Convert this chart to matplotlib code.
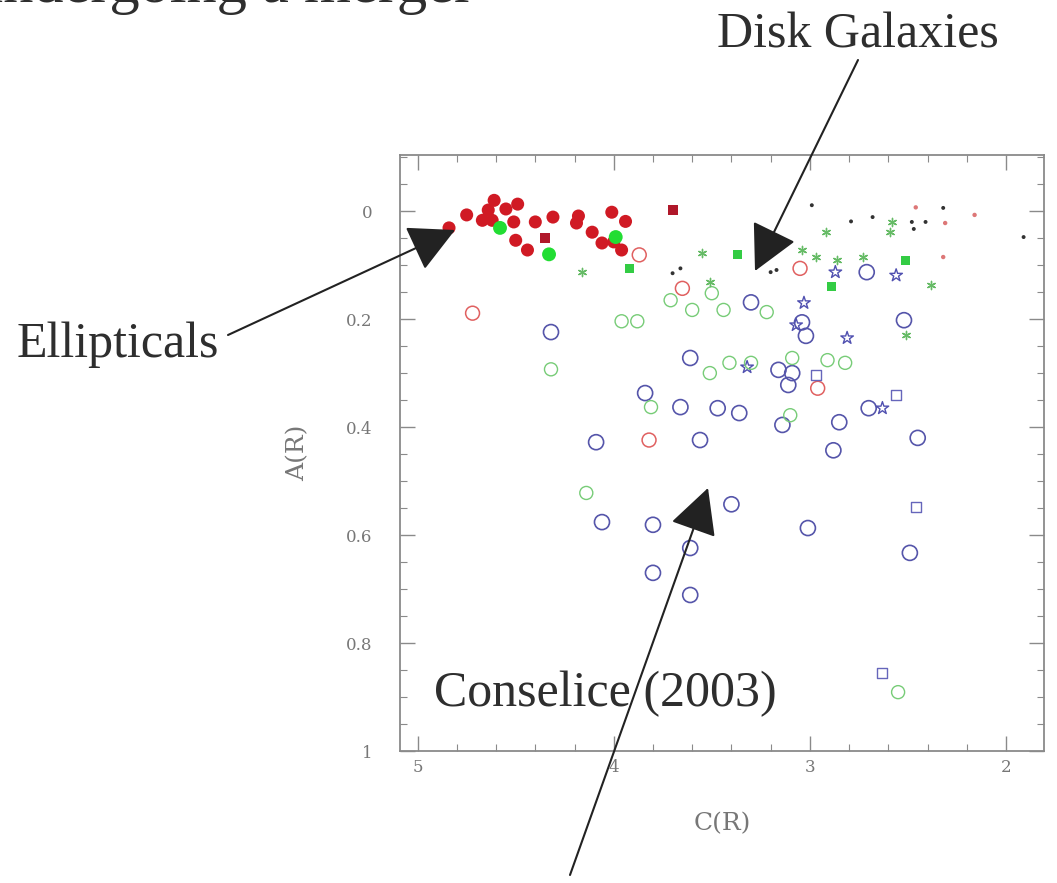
import matplotlib
matplotlib.use("Agg")
import matplotlib.pyplot as plt
from matplotlib.patches import FancyArrowPatch, ArrowStyle
from matplotlib.ticker import MultipleLocator, FuncFormatter

# --- data: C(R) concentration, A(R) asymmetry ---
ell_c = [4.84, 4.75, 4.61, 4.64, 4.55, 4.49, 4.67, 4.62, 4.51, 4.50, 4.44,
         4.40, 4.31, 4.18, 4.19, 4.11, 4.01, 3.94, 4.06, 3.96, 4.00]
ell_a = [0.031, 0.007, -0.020, -0.002, -0.004, -0.013, 0.017, 0.017, 0.020,
         0.054, 0.072, 0.020, 0.011, 0.009, 0.022, 0.039, 0.002, 0.019,
         0.059, 0.072, 0.057]

red_sq_c = [4.35, 3.70]
red_sq_a = [0.050, -0.002]

green_big_c = [4.58, 4.33, 3.99]
green_big_a = [0.031, 0.080, 0.048]

green_sq_c = [3.92, 3.37, 2.89, 2.51]
green_sq_a = [0.106, 0.080, 0.139, 0.091]

red_open_c = [4.72, 3.87, 3.65, 3.05, 3.82, 2.96]
red_open_a = [0.189, 0.081, 0.143, 0.106, 0.424, 0.328]

blue_open_c = [4.32, 3.30, 2.71, 3.61, 3.84, 3.66, 3.47, 4.09, 3.56, 4.06,
               3.80, 3.61, 3.40, 3.01, 3.80, 3.61, 3.02, 3.16, 3.09, 3.11,
               3.36, 3.14, 2.85, 2.70, 2.45, 2.88, 2.52, 3.04, 2.49]
blue_open_a = [0.224, 0.169, 0.113, 0.272, 0.337, 0.363, 0.365, 0.428, 0.424,
               0.576, 0.581, 0.624, 0.543, 0.587, 0.670, 0.711, 0.231, 0.294,
               0.300, 0.322, 0.374, 0.396, 0.391, 0.365, 0.420, 0.443, 0.202,
               0.206, 0.633]

blue_sq_c = [2.97, 2.56, 2.46, 2.63]
blue_sq_a = [0.304, 0.341, 0.548, 0.856]

blue_star_c = [2.87, 2.56, 3.03, 2.81, 3.32, 2.63, 3.07]
blue_star_a = [0.113, 0.119, 0.170, 0.235, 0.289, 0.365, 0.211]

green_open_c = [4.14, 4.32, 3.96, 3.88, 3.81, 3.71, 3.60, 3.51, 3.41, 3.30,
                3.09, 2.91, 2.82, 3.10, 3.50, 3.22, 3.44, 2.55]
green_open_a = [0.522, 0.293, 0.204, 0.204, 0.363, 0.165, 0.183, 0.300, 0.281,
                0.281, 0.272, 0.276, 0.281, 0.378, 0.152, 0.187, 0.183, 0.891]

green_ast_c = [3.55, 3.51, 3.04, 2.97, 2.86, 2.73, 2.38, 2.51, 4.16, 2.58,
               2.59, 2.92]
green_ast_a = [0.078, 0.131, 0.072, 0.085, 0.091, 0.085, 0.137, 0.230, 0.113,
               0.020, 0.039, 0.039]

dark_dot_c = [3.70, 3.66, 3.20, 3.17, 2.99, 2.79, 2.68, 2.48, 2.41, 2.47,
              2.32, 1.91]
dark_dot_a = [0.115, 0.106, 0.113, 0.109, -0.011, 0.019, 0.011, 0.020, 0.020,
              0.033, -0.006, 0.048]

red_dot_c = [2.31, 2.16, 2.32, 2.46]
red_dot_a = [0.022, 0.007, 0.085, -0.007]

W, H, DPI = 1057, 883, 100
fig = plt.figure(figsize=(W / DPI, H / DPI), dpi=DPI)
fig.patch.set_facecolor("white")

ax = fig.add_axes([400 / W, 1 - 751 / H, 644 / W, 596 / H])

ax.scatter(ell_c, ell_a, s=88, color="#d01a24", edgecolors="none", zorder=3)
ax.scatter(red_sq_c, red_sq_a, s=52, marker="s", color="#b0182a",
           edgecolors="none", zorder=3)
ax.scatter(green_big_c, green_big_a, s=100, color="#22dd33",
           edgecolors="none", zorder=4)
ax.scatter(green_sq_c, green_sq_a, s=42, marker="s", color="#33cc44",
           edgecolors="none", zorder=4)
ax.scatter(red_open_c, red_open_a, s=100, facecolors="none",
           edgecolors="#e06060", linewidths=1.1, zorder=3)
ax.scatter(blue_open_c, blue_open_a, s=117, facecolors="none",
           edgecolors="#5555aa", linewidths=1.2, zorder=3)
ax.scatter(blue_sq_c, blue_sq_a, s=52, marker="s", facecolors="none",
           edgecolors="#6666bb", linewidths=1.0, zorder=3)
ax.scatter(blue_star_c, blue_star_a, s=90, marker="*", facecolors="none",
           edgecolors="#5050b0", linewidths=1.0, zorder=3)
ax.scatter(green_open_c, green_open_a, s=88, facecolors="none",
           edgecolors="#77cc77", linewidths=1.0, zorder=3)
ax.scatter(green_ast_c, green_ast_a, s=35, marker=(6, 2, 0),
           color="#66bb66", linewidths=1.0, zorder=3)
ax.scatter(dark_dot_c, dark_dot_a, s=8, color="#333333",
           edgecolors="none", zorder=4)
ax.scatter(red_dot_c, red_dot_a, s=10, color="#dd7777",
           edgecolors="none", zorder=4)

ax.set_xlim(5.09, 1.806)
ax.set_ylim(1.0, -0.104)

ax.xaxis.set_major_locator(MultipleLocator(1))
ax.xaxis.set_minor_locator(MultipleLocator(0.2))
ax.yaxis.set_major_locator(MultipleLocator(0.2))
ax.yaxis.set_minor_locator(MultipleLocator(0.05))
ax.xaxis.set_major_formatter(FuncFormatter(lambda v, p: f"{v:g}"))
ax.yaxis.set_major_formatter(FuncFormatter(lambda v, p: f"{v:g}"))

gray = "#8a8a8a"
for s in ax.spines.values():
    s.set_color(gray)
    s.set_linewidth(1.3)
ax.tick_params(which="both", direction="in", top=True, right=True,
               color=gray, labelcolor="#777777")
ax.tick_params(which="major", length=11, width=1.0, labelsize=12)
ax.tick_params(which="minor", length=5, width=0.8)
ax.tick_params(axis="y", which="major", pad=20)
ax.tick_params(axis="x", which="major", pad=6)
for lab in ax.get_xticklabels() + ax.get_yticklabels():
    lab.set_family("DejaVu Serif")

ax.set_xlabel("C(R)", family="DejaVu Serif", fontsize=18, color="#777777",
              labelpad=26)
ax.set_ylabel("A(R)", family="DejaVu Serif", fontsize=18, color="#777777",
              labelpad=26)

# annotations, positioned in figure pixels
def fx(px):
    return px / W


def fy(py):
    return 1 - py / H


txt = dict(family="Liberation Serif", fontsize=36, color="#2e2e2e",
           va="baseline")
fig.text(fx(-27), fy(2), "undergoing a merger", ha="left",
         **{**txt, "fontsize": 43.5})
fig.text(fx(858), fy(47), "Disk Galaxies", ha="center", **txt)
fig.text(fx(118), fy(357), "Ellipticals", ha="center", **txt)
fig.text(fx(605), fy(706), "Conselice (2003)", ha="center", **txt)

style = ArrowStyle("-|>", head_length=29, head_width=15)
arrows = [((858, 60), (755, 271)),
          ((228, 335), (455, 230)),
          ((570, 875), (708, 488))]
for (x0, y0), (x1, y1) in arrows:
    fig.add_artist(FancyArrowPatch(
        (fx(x0), fy(y0)), (fx(x1), fy(y1)),
        transform=fig.transFigure, arrowstyle=style,
        color="#222222", linewidth=1.5, shrinkA=0, shrinkB=0, zorder=10
    ))

fig.savefig("out.png", dpi=DPI, facecolor="white")
